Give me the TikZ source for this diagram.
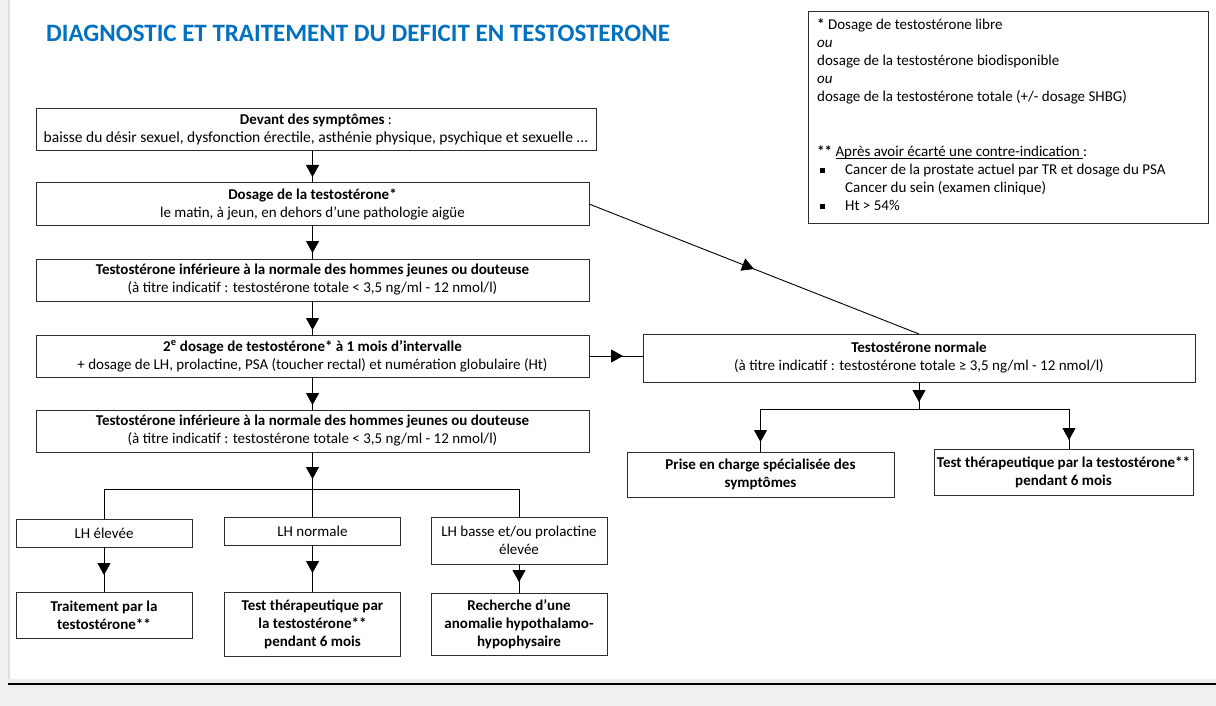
\documentclass[tikz,border=0pt]{standalone}
\usepackage{fontspec}
\setmainfont{Carlito}
\usetikzlibrary{arrows.meta,decorations.markings,calc}
\definecolor{titleblue}{RGB}{0,112,192}
\definecolor{pagegray}{RGB}{240,240,240}
\definecolor{edgegray}{RGB}{222,222,222}
\definecolor{boxline}{RGB}{45,45,45}
\newcommand{\myul}[1]{\setbox0\hbox{#1}\rlap{\rule[-2.2pt]{\wd0}{0.8pt}}\box0}
\tikzset{
  flowbox/.style={draw=boxline, line width=1pt, fill=white, inner sep=0pt, outer sep=0pt, align=center, font=\fontsize{15}{18}\selectfont},
  boldbox/.style={flowbox, font=\fontsize{15}{18}\selectfont\bfseries},
  conn/.style={draw=black, line width=0.9pt},
  marr/.style={postaction={decorate}, decoration={markings, mark=at position #1 with {\arrow{Triangle[width=13pt,length=12pt]}}}},
  notetxt/.style={anchor=base west, inner sep=0pt, font=\fontsize{15}{18}\selectfont},
}
\begin{document}
\begin{tikzpicture}[x=1pt,y=-1pt]
\useasboundingbox (0,0) rectangle (1216,706);
% background
\fill[white] (0,0) rectangle (1216,706);
\fill[pagegray] (0,0) rectangle (8,706);
\draw[edgegray, line width=1.5pt] (9,0) -- (9,679);
\fill[pagegray] (0,679) rectangle (1216,706);
\fill[black] (8,682.5) rectangle (1216,685.3);

% title
\node[anchor=base west, inner sep=0pt, font=\fontsize{25}{30}\selectfont\bfseries, text=titleblue] (title) at (46,42) {DIAGNOSTIC ET TRAITEMENT DU DEFICIT EN TESTOSTERONE};

% note box
\node[draw=boxline, line width=1pt, minimum width=400pt, minimum height=211pt, inner sep=0pt, outer sep=0pt] (note) at (1008,117.5) {};
\node[notetxt] (n1) at (817,30) {\textbf{*} Dosage de testostérone libre};
\node[notetxt] (n2) at (817,48) {\textit{ou}};
\node[notetxt] (n3) at (817,66) {dosage de la testostérone biodisponible};
\node[notetxt] (n4) at (817,84) {\textit{ou}};
\node[notetxt] (n5) at (817,102) {dosage de la testostérone totale (+/- dosage SHBG)};
\node[notetxt] (n6) at (817,157) {\textbf{**} \myul{Après avoir écarté une contre-indication\ }:};
\node[notetxt] (n7) at (845,175) {\llap{\rule[2pt]{4.5pt}{4.5pt}\hspace{20.5pt}}Cancer de la prostate actuel par TR et dosage du PSA};
\node[notetxt] (n8) at (845,193) {Cancer du sein (examen clinique)};
\node[notetxt] (n9) at (845,211) {\llap{\rule[2pt]{4.5pt}{4.5pt}\hspace{20.5pt}}Ht > 54\%};

% main column
\node[flowbox, minimum width=560pt, minimum height=42pt] (b1) at (316,129.5) {\textbf{Devant des symptômes} :\\{\fontsize{15.5}{18}\selectfont baisse du désir sexuel, dysfonction érectile, asthénie physique, psychique et sexuelle ...}};
\node[flowbox, minimum width=553pt, minimum height=42pt] (b2) at (312.5,204) {\textbf{Dosage de la testostérone*}\\le matin, à jeun, en dehors d’une pathologie aigüe};
\node[flowbox, minimum width=553pt, minimum height=42pt] (b3) at (312.5,280) {\textbf{Testostérone inférieure à la normale des hommes jeunes ou douteuse}\\(à titre indicatif : testostérone totale < 3,5 ng/ml - 12 nmol/l)};
\node[flowbox, minimum width=553pt, minimum height=42pt] (b4) at (312.5,356) {\textbf{2\textsuperscript{e} dosage de testostérone* à 1 mois d’intervalle}\\+ dosage de LH, prolactine, PSA (toucher rectal) et numération globulaire (Ht)};
\node[flowbox, minimum width=553pt, minimum height=42pt] (b5) at (312.5,431) {\textbf{Testostérone inférieure à la normale des hommes jeunes ou douteuse}\\(à titre indicatif : testostérone totale < 3,5 ng/ml - 12 nmol/l)};

% LH boxes
\node[flowbox, minimum width=176pt, minimum height=28pt] (lh1) at (104,533) {LH élevée};
\node[flowbox, minimum width=176pt, minimum height=28pt] (lh2) at (312.5,531) {LH normale};
\node[flowbox, minimum width=176pt, minimum height=47pt] (lh3) at (519,540.5) {LH basse et/ou prolactine\\élevée};

% result boxes
\node[boldbox, minimum width=176pt, minimum height=46pt] (r1) at (104,615) {Traitement par la\\testostérone**};
\node[boldbox, minimum width=176pt, minimum height=64pt] (r2) at (312.5,624) {Test thérapeutique par\\la testostérone**\\pendant 6 mois};
\node[boldbox, minimum width=176pt, minimum height=62pt] (r3) at (519,624) {Recherche d’une\\anomalie hypothalamo-\\hypophysaire};

% right column
\node[flowbox, minimum width=552pt, minimum height=48pt] (nb) at (919,358) {\textbf{Testostérone normale}\\(à titre indicatif : testostérone totale ≥ 3,5 ng/ml - 12 nmol/l)};
\node[boldbox, minimum width=267pt, minimum height=45pt] (p1) at (760.5,474.5) {Prise en charge spécialisée des\\symptômes};
\node[boldbox, minimum width=259pt, minimum height=46pt] (p2) at (1063.5,472) {Test thérapeutique par la testostérone**\\pendant 6 mois};

% connectors
\draw[conn, marr=-6pt] (b1.south -| b2.north) -- (b2.north);
\draw[conn, marr=-6pt] (b2.south) -- (b3.north);
\draw[conn, marr=-5pt] (b3.south) -- (b4.north);
\draw[conn, marr=-5pt] (b4.south) -- (b5.north);
\coordinate (s1) at (312.5,489);
\draw[conn, marr=-10pt] (b5.south) -- (s1);
\draw[conn] (lh1.north) -- (lh1.north |- s1) -- (lh3.north |- s1) -- (lh3.north);
\draw[conn] (s1) -- (lh2.north);
\draw[conn, marr=-17pt] (lh1.south) -- (r1.north);
\draw[conn, marr=-19pt] (lh2.south) -- (r2.north);
\draw[conn, marr=-11pt] (lh3.south) -- (r3.north);

\draw[conn, marr=0.5] (b2.east) -- (nb.north);
\draw[conn, marr=0.63] (b4.east) -- (b4.east -| nb.west);

\coordinate (s2) at (919,409);
\coordinate (s2l) at (760.5,409);
\coordinate (s2r) at (1069,409);
\draw[conn, marr=-7pt] (nb.south) -- (s2);
\draw[conn] (s2l) -- (s2r);
\draw[conn, marr=-10pt] (s2l) -- (s2l |- p1.north);
\draw[conn, marr=-9pt] (s2r) -- (s2r |- p2.north);
\end{tikzpicture}
\end{document}
